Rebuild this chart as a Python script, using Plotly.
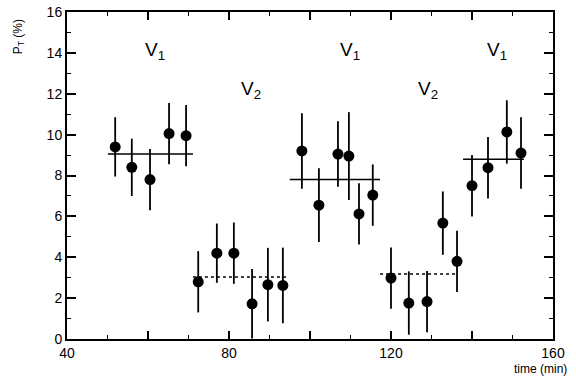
import plotly.graph_objects as go

# Data points: time (min), polarization P_T (%), error
time_v1a = [51.9, 56.0, 60.5, 65.2, 69.4]
pt_v1a = [9.4, 8.4, 7.8, 10.05, 9.95]
err_v1a = [1.45, 1.4, 1.5, 1.5, 1.5]

time_v2a = [72.4, 77.0, 81.2, 85.7, 89.6, 93.3]
pt_v2a = [2.8, 4.2, 4.2, 1.72, 2.66, 2.62]
err_v2a = [1.5, 1.45, 1.5, 1.7, 1.8, 1.85]

time_v1b = [98.0, 102.2, 106.9, 109.6, 112.1, 115.5]
pt_v1b = [9.2, 6.55, 9.05, 8.95, 6.12, 7.04]
err_v1b = [1.85, 1.8, 1.6, 2.15, 1.5, 1.5]

time_v2b = [120.0, 124.4, 128.9, 132.8, 136.3]
pt_v2b = [2.98, 1.76, 1.83, 5.67, 3.8]
err_v2b = [1.5, 1.55, 1.5, 1.55, 1.5]

time_v1c = [140.0, 143.95, 148.6, 152.1]
pt_v1c = [7.5, 8.38, 10.13, 9.1]
err_v1c = [1.5, 1.5, 1.55, 1.75]

# Mean levels per segment: (start, end, level)
fit_v1_start = [50.1, 95.0, 137.8]
fit_v1_end = [71.1, 117.3, 152.8]
fit_v1_level = [9.05, 7.8, 8.8]

fit_v2_start = [71.1, 117.3]
fit_v2_end = [94.3, 136.3]
fit_v2_level = [3.03, 3.18]

# Region labels
label_text = ["V<sub>1</sub>", "V<sub>2</sub>", "V<sub>1</sub>", "V<sub>2</sub>", "V<sub>1</sub>"]
label_x = [61.7, 85.4, 109.9, 129.1, 146.2]
label_y = [14.1, 12.2, 14.1, 12.2, 14.1]

x_tickvals = [40, 60, 80, 100, 120, 140, 160]
x_ticktext = ["40", " ", "80", " ", "120", " ", "160"]
y_tickvals = [0, 2, 4, 6, 8, 10, 12, 14, 16]
y_ticktext = ["0", "2", "4", "6", "8", "10", "12", "14", "16"]

FONT = "Liberation Sans, Arial, Helvetica, sans-serif"

fig = go.Figure()

for s, e, lv in zip(fit_v1_start, fit_v1_end, fit_v1_level):
    fig.add_trace(go.Scatter(x=[s, e], y=[lv, lv], mode="lines",
                             line=dict(color="black", width=1.5),
                             showlegend=False, hoverinfo="skip"))
for s, e, lv in zip(fit_v2_start, fit_v2_end, fit_v2_level):
    fig.add_trace(go.Scatter(x=[s, e], y=[lv, lv], mode="lines",
                             line=dict(color="black", width=1.5, dash="dot"),
                             showlegend=False, hoverinfo="skip"))

for xs, ys, es in [(time_v1a, pt_v1a, err_v1a), (time_v2a, pt_v2a, err_v2a),
                   (time_v1b, pt_v1b, err_v1b), (time_v2b, pt_v2b, err_v2b),
                   (time_v1c, pt_v1c, err_v1c)]:
    fig.add_trace(go.Scatter(
        x=xs, y=ys, mode="markers",
        marker=dict(color="black", size=11, symbol="circle"),
        error_y=dict(type="data", array=es, visible=True, color="black",
                     thickness=1.8, width=0),
        showlegend=False, cliponaxis=True))

for t, lx, ly in zip(label_text, label_x, label_y):
    fig.add_annotation(x=lx, y=ly, text=t, showarrow=False,
                       font=dict(family=FONT, size=19, color="black"))

fig.add_annotation(xref="paper", yref="paper", x=1.032, y=-0.065,
                   xanchor="right", yanchor="top", text="time (min)",
                   showarrow=False,
                   font=dict(family=FONT, size=12, color="black"))

fig.add_annotation(xref="paper", yref="paper", x=-0.1, y=0.924,
                   xanchor="center", yanchor="middle", textangle=-90,
                   text="P<sub>T</sub> (%)", showarrow=False,
                   font=dict(family=FONT, size=12, color="black"))

fig.update_xaxes(range=[40, 160], tickvals=x_tickvals, ticktext=x_ticktext,
                 ticks="inside", ticklen=8, tickwidth=1.5, tickcolor="black",
                 minor=dict(dtick=10, ticks="inside", ticklen=4, tickwidth=1.2,
                            tickcolor="black", showgrid=False),
                 showline=True, linecolor="black", linewidth=2, mirror="allticks",
                 showgrid=False, zeroline=False, automargin=False,
                 tickfont=dict(family=FONT, size=14, color="black"))
fig.update_yaxes(range=[0, 16], tickvals=y_tickvals, ticktext=y_ticktext,
                 ticks="inside", ticklen=9, tickwidth=1.5, tickcolor="black",
                 minor=dict(dtick=1, ticks="inside", ticklen=4, tickwidth=1.2,
                            tickcolor="black", showgrid=False),
                 showline=True, linecolor="black", linewidth=2, mirror="allticks",
                 showgrid=False, zeroline=False, automargin=False,
                 tickfont=dict(family=FONT, size=14, color="black"))

fig.update_layout(width=576, height=379,
                  margin=dict(l=67, r=23, t=12, b=40),
                  plot_bgcolor="white", paper_bgcolor="white")

fig.write_html("out.html", config={"displayModeBar": False},
               post_script="document.body.style.margin='0';document.body.style.overflow='hidden';")
